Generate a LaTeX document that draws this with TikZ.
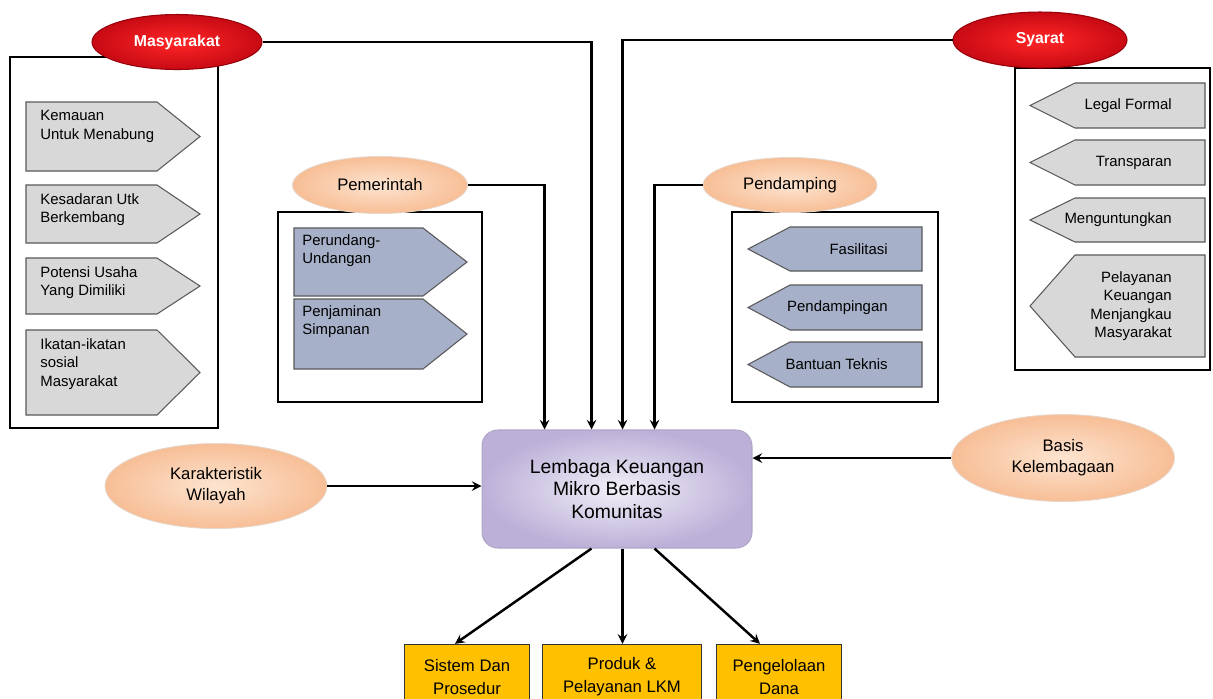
\documentclass[tikz,border=0pt]{standalone}
\usepackage{fontspec}
\setmainfont{Liberation Sans}
\usetikzlibrary{positioning,shapes.geometric}
\definecolor{merah}{RGB}{200,10,20}
\definecolor{merahtua}{RGB}{150,0,10}
\definecolor{peach}{RGB}{247,190,150}
\definecolor{peachmuda}{RGB}{253,228,208}
\definecolor{abutag}{RGB}{216,216,216}
\definecolor{birutag}{RGB}{166,176,200}
\definecolor{ungu}{RGB}{188,176,216}
\definecolor{emas}{RGB}{255,192,0}
\tikzset{
  redell/.style={ellipse,draw=merahtua,line width=.6pt,inner color=red!85!white,outer color=merah,
    text=white,font=\bfseries\fontsize{9}{11}\selectfont,inner sep=0pt},
  peachell/.style={ellipse,draw=peach!80!black!40,line width=.5pt,inner color=peachmuda,outer color=peach,
    align=center,font=\fontsize{9.5}{12}\selectfont,inner sep=0pt},
  frame/.style={draw,line width=1.6pt,fill=white},
  graytag/.style={draw=black!65,line width=.6pt,fill=abutag},
  bluetag/.style={draw=black!65,line width=.6pt,fill=birutag},
  tagtext/.style={inner sep=0pt,font=\fontsize{8.5}{10.5}\selectfont},
  lkmbox/.style={rectangle,rounded corners=9pt,draw=ungu!80!gray,line width=.6pt,inner color=white!80!ungu,
    outer color=ungu,align=center,font=\fontsize{11}{13}\selectfont},
  outbox/.style={rectangle,draw=black!80,line width=.8pt,fill=emas,align=center,
    font=\fontsize{9.5}{13}\selectfont,inner sep=0pt},
  line/.style={line width=1.4pt},
}
\begin{document}
\begin{tikzpicture}[x=0.02cm,y=-0.02cm,>=stealth,line join=miter]
\useasboundingbox (0,0) rectangle (1213,698);
\clip (0,0) rectangle (1213,698);
% kotak-kotak
\draw[frame] (10,57) rectangle (218,428);
\draw[frame] (278,212) rectangle (482,402);
\draw[frame] (732,212) rectangle (938,402);
\draw[frame] (1015,68) rectangle (1210,370);
% masyarakat
\foreach \t/\b/\txt [count=\i] in {102/171/{Kemauan\\Untuk Menabung},185/243/{Kesadaran Utk\\Berkembang},
    258/314/{Potensi Usaha\\Yang Dimiliki},330/415/{Ikatan-ikatan\\sosial\\Masyarakat}}{
  \draw[graytag] (26,\t) -- (157,\t) -- (200,{(\t+\b)/2}) -- (157,\b) -- (26,\b) -- cycle;
  \node[tagtext,align=left,anchor=north west] (masy\i) at (40,\t+8) {\txt};
}
% pemerintah
\foreach \t/\b/\txt [count=\i] in {228/296/{Perundang-\\Undangan},299/369/{Penjaminan\\Simpanan}}{
  \draw[bluetag] (294,\t) -- (423,\t) -- (467,{(\t+\b)/2}) -- (423,\b) -- (294,\b) -- cycle;
  \node[tagtext,align=left,anchor=north west] (pem\i) at (302,\t+6) {\txt};
}
% pendamping
\foreach \t/\b/\txt [count=\i] in {227/271/Fasilitasi,285/330/Pendampingan,342/387/Bantuan Teknis}{
  \draw[bluetag] (922,\t) -- (790,\t) -- (748,{(\t+\b)/2}) -- (790,\b) -- (922,\b) -- cycle;
  \node[tagtext,anchor=east] (pend\i) at (888,{(\t+\b)/2}) {\txt};
}
% syarat
\foreach \t/\b/\txt [count=\i] in {83/128/{Legal Formal},140/185/{Transparan},198/242/{Menguntungkan},
    255/357/{Pelayanan\\Keuangan\\Menjangkau\\Masyarakat}}{
  \draw[graytag] (1205,\t) -- (1075,\t) -- (1030,{(\t+\b)/2}) -- (1075,\b) -- (1205,\b) -- cycle;
  \node[tagtext,align=right,anchor=east] (sya\i) at (1172,{(\t+\b)/2}) {\txt};
}
% elips
\node[redell,minimum width=3.4cm,minimum height=1.1cm] (masy) at (177,42) {Masyarakat};
\node[redell,minimum width=3.48cm,minimum height=1.12cm] (syarat) at (1040,40) {Syarat};
\node[peachell,minimum width=3.5cm,minimum height=1.14cm] (pem) at (380,185) {Pemerintah};
\node[peachell,minimum width=3.48cm,minimum height=1.1cm] (pend) at (790,185) {Pendamping};
\node[peachell,minimum width=4.44cm,minimum height=1.7cm] (kar) at (216,486) {Karakteristik\\Wilayah};
\node[peachell,minimum width=4.46cm,minimum height=1.74cm] (basis) at (1063,458) {Basis\\Kelembagaan};
% pusat
\node[lkmbox,minimum width=5.4cm,minimum height=2.36cm] (lkm) at (617,489)
  {Lembaga Keuangan\\Mikro Berbasis\\Komunitas};
\node[outbox,minimum width=2.5cm,minimum height=1.3cm] (sistem) at (467,677) {Sistem Dan\\Prosedur};
\node[outbox,minimum width=3.18cm,minimum height=1.3cm] (produk) at (622,677) {Produk \&\\Pelayanan LKM};
\node[outbox,minimum width=2.5cm,minimum height=1.3cm] (dana) at (779,677) {Pengelolaan\\Dana};
% titik masuk dan keluar
\path (lkm.north west) ++(63,0) coordinate (in1) ++(47,0) coordinate (in2) ++(31,0) coordinate (in3)
  ++(32,0) coordinate (in4);
\path (lkm.south west) ++(110,0) coordinate (out1) ++(31,0) coordinate (out2) ++(32,0) coordinate (out3);
% panah
\draw[line,->] (pem.east) -| (in1);
\draw[line,->] (masy.east) -| (in2);
\draw[line,->] (syarat.west) -| (in3);
\draw[line,->] (pend.west) -| (in4);
\draw[line,->] (kar.east) -- (kar.east -| lkm.west);
\draw[line,->] (basis.west) -- (basis.west -| lkm.east);
\draw[line,->] (out1) -- ([xshift=-0.24cm]sistem.north);
\draw[line,->] (out2) -- (out2 |- produk.north);
\draw[line,->] (out3) -- ([xshift=-0.38cm]dana.north);
\end{tikzpicture}
\end{document}
